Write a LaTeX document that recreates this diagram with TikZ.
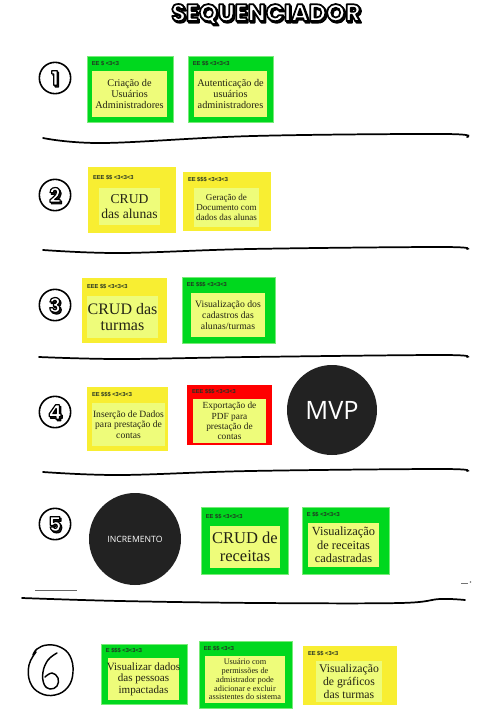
\documentclass[tikz,border=0pt]{standalone}
\usepackage{fontspec}
\setmainfont{Liberation Serif}
\newfontfamily\hdrfont{Liberation Sans}
\newfontfamily\titlefont{Poppins}
\newfontfamily\circfont{Open Sans}
\usetikzlibrary{fit,calc}
\definecolor{gO}{RGB}{0,216,30}
\definecolor{gB}{RGB}{120,235,120}
\definecolor{yO}{RGB}{248,238,50}
\definecolor{inY}{RGB}{238,252,122}
\definecolor{rO}{RGB}{255,0,0}
\definecolor{txt}{RGB}{35,35,20}
\definecolor{hdr}{RGB}{35,50,35}
\definecolor{dark}{RGB}{34,34,34}
\tikzset{
 greencard/.style={fill=gO, draw=gB, line width=0.6pt},
 yellowcard/.style={fill=yO, draw=none},
 redcard/.style={fill=rO, draw=none},
 innerbox/.style={fill=inY, draw=none},
 cardtext/.style={align=center, text=txt, inner sep=0pt},
 hdrtext/.style={font=\hdrfont\bfseries\fontsize{4.3}{5}\selectfont, text=hdr, anchor=west, inner sep=0pt},
 sepline/.style={line width=1.3pt, black, line cap=round},
 numring/.style={circle, draw=black, line width=1.2pt, minimum size=23.5pt, inner sep=0pt},
 darkdisc/.style={circle, fill=dark, inner sep=0pt},
}
\newcommand\card[9]{%
 \node[#2, fit={(#3) (#4)}, inner sep=0pt] (#1-o) {};
 \node[innerbox, fit={(#5) (#6)}, inner sep=0pt] (#1-i) {};
 \node[hdrtext] (#1-h) at ($(#1-o.north west)!0.5!(#1-o.north west |- #1-i.north)+(5,0)$) {#7};
 \node[cardtext, font=#8] (#1-t) at (#1-i) {#9};
}
% outlined text: fill colour from TikZ, black stroke of width #1
\newcommand\outl[2]{\special{pdf:literal direct 2 Tr #1 w 0 0 0 RG 1 j}#2\special{pdf:literal direct 0 Tr}}
\newcommand\bubble[5]{%
 \node[font=#3, text=black!85, inner sep=0pt] (#1-s) at ($(#2)+(1.3,1.6)$) {\outl{#5}{#4}};
 \node[font=#3, text=white, inner sep=0pt] (#1) at (#2) {\outl{#5}{#4}};
}
\begin{document}
\begin{tikzpicture}[x=0.75pt, y=-0.75pt]
\path[fill=white] (0,0) rectangle (501,714);
\useasboundingbox (0,0) rectangle (501,714);

% title
\bubble{title}{266,14}{\titlefont\bfseries\fontsize{18}{20}\selectfont}{SEQUENCIADOR}{1.3}

% number rings
\foreach \n/\y in {1/78,2/195,3/305,4/412,5/524} {
 \node[numring] (ring\n) at (55,\y) {};
}
\bubble{n1}{55,78}{\titlefont\bfseries\fontsize{15}{17}\selectfont}{1}{0.9}
\bubble{n2}{55,195}{\titlefont\bfseries\fontsize{15}{17}\selectfont}{2}{0.9}
\bubble{n3}{55,305}{\titlefont\bfseries\fontsize{15}{17}\selectfont}{3}{0.9}
\bubble{n4}{55,412}{\titlefont\bfseries\fontsize{15}{17}\selectfont}{4}{0.9}
\bubble{n5}{55,524}{\titlefont\bfseries\fontsize{15}{17}\selectfont}{5}{0.9}

% hand-drawn 6
\draw[line width=1.1pt, line cap=round] plot[smooth, tension=0.7] coordinates {(36,652) (29,665) (30,682) (40,693) (55,695) (68,687) (73,672) (70,656) (60,647) (47,645) (37,649) (33,655)};
\draw[line width=1.1pt, line cap=round] plot[smooth, tension=0.7] coordinates {(57,653) (48,660) (43,672) (44,684) (50,689) (57,686) (58,678) (52,673) (45,677)};

% row 1
\card{c11}{greencard}{87,56}{173,122}{92,71}{167,117}{EE \$ <3<3}{\fontsize{7.7}{8.4}\selectfont}{Criação de\\Usuários\\Administradores}
\card{c12}{greencard}{188,56}{273,122}{194,71}{267,117}{EE \$\$ <3<3<3}{\fontsize{7.7}{8.4}\selectfont}{Autenticação de\\usuários\\administradores}
% row 2
\card{c21}{yellowcard}{88,167}{176,233}{99,188}{160,225}{EEE \$\$ <3<3<3}{\fontsize{10.2}{10.8}\selectfont}{CRUD\\das alunas}
\card{c22}{yellowcard}{183,172}{271,231}{194,188}{259,227}{EE \$\$\$ <3<3<3}{\fontsize{6.8}{7.4}\selectfont}{Geração de\\Documento com\\dados das alunas}
% row 3
\card{c31}{yellowcard}{82,278}{167,343}{87,296}{158,338}{EEE \$\$ <3<3<3}{\fontsize{12}{12.6}\selectfont}{CRUD das\\turmas}
\card{c32}{greencard}{182,277}{275,343}{191,293}{265,337}{EE \$\$\$ <3<3<3}{\fontsize{7.3}{8.3}\selectfont}{Visualização dos\\cadastros das\\alunas/turmas}
% row 4
\card{c41}{yellowcard}{87,387}{168,451}{92,403}{165,446}{EE \$\$\$ <3<3<3}{\fontsize{7.2}{8}\selectfont}{Inserção de Dados\\para prestação de\\contas}
\card{c42}{redcard}{187,385}{272,445}{193,399}{266,443}{EEE \$\$\$ <3<3<3}{\fontsize{7}{7.6}\selectfont}{Exportação de\\PDF para\\prestação de\\contas}
\node[darkdisc, minimum size=67.5pt] (mvp) at (332,410) {};
\node[text=white, font=\circfont\fontsize{19}{21}\selectfont, inner sep=0pt] (mvpt) at (mvp) {MVP};
% row 5
\node[darkdisc, minimum size=69pt] (inc) at (135,539) {};
\node[text=white, font=\circfont\fontsize{6.5}{8}\selectfont, inner sep=0pt] (inct) at (inc) {INCREMENTO};
\card{c51}{greencard}{201,507}{288,574}{210,526}{280,568}{EE \$\$ <3<3<3}{\fontsize{12.4}{13.5}\selectfont}{CRUD de\\receitas}
\card{c52}{greencard}{302,507}{389,574}{308,523}{379,567}{E \$\$ <3<3<3}{\fontsize{9.3}{10}\selectfont}{Visualização\\de receitas\\cadastradas}
% row 6
\card{c61}{greencard}{101,644}{187,704}{108,658}{179,700}{E \$\$\$ <3<3<3}{\fontsize{8.3}{8.7}\selectfont}{Visualizar dados\\das pessoas\\impactadas}
\card{c62}{greencard}{199,641}{292,708}{205,656}{285,703}{EE \$\$ <3<3}{\fontsize{6.2}{6.6}\selectfont}{Usuário com\\permissões de\\admistrador pode\\adicionar e excluir\\assistentes do sistema}
\card{c63}{yellowcard}{303,646}{397,705}{316,661}{382,702}{EE \$\$ <3<3}{\fontsize{8.8}{9.4}\selectfont}{Visualização\\de gráficos\\das turmas}

% separators
\draw[sepline] plot[smooth, tension=0.6] coordinates {(43,138) (103,143) (253,136) (443,134) (467,137)};
\draw[sepline] plot[smooth, tension=0.6] coordinates {(43,250) (120,253) (250,249) (440,247) (467,249)};
\draw[sepline] plot[smooth, tension=0.6] coordinates {(39,357) (120,359) (250,357) (440,355) (467,357)};
\draw[sepline] plot[smooth, tension=0.6] coordinates {(43,472) (120,475) (250,471) (440,469) (467,471)};
\draw[sepline] plot[smooth, tension=0.6] coordinates {(22,598) (120,601) (260,603) (400,603) (440,599) (465,600)};
\draw[black!60, line width=0.5pt] (35,590) -- (77,590);
\draw[black!55, line width=0.6pt] (461,583) -- (468,583);
\fill[black!55] (470.5,582) circle (0.8);
\end{tikzpicture}
\end{document}
